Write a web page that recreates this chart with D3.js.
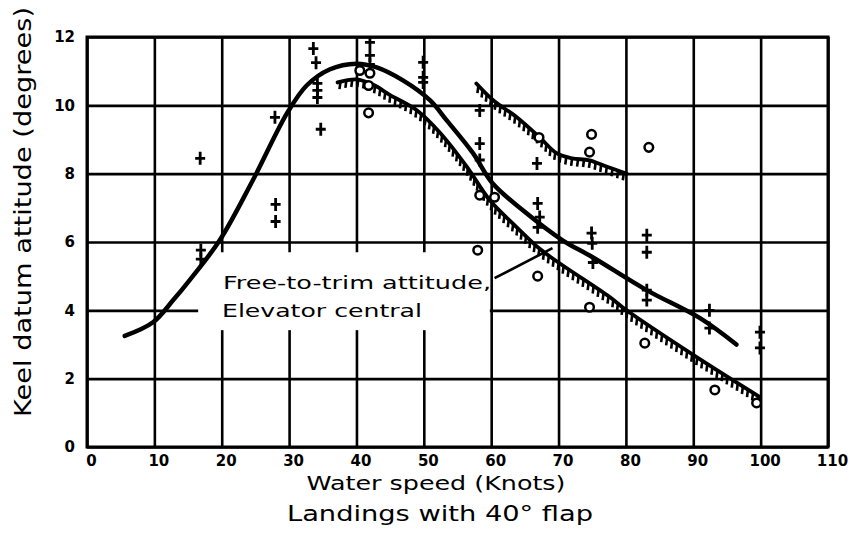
<!DOCTYPE html>
<html>
<head>
<meta charset="utf-8">
<script src="https://cdn.jsdelivr.net/npm/d3@7"></script>
<style>
  html, body { margin: 0; padding: 0; background: #fff; }
  svg { display: block; }
  text { font-family: "DejaVu Sans", sans-serif; fill: #000; }
</style>
</head>
<body>
<svg id="chart" width="851" height="540"></svg>
<script>
// ---------- data ----------
const xTicks = [0, 10, 20, 30, 40, 50, 60, 70, 80, 90, 100, 110];
const xTickLabels = ["0", "10", "20", "30", "40", "50", "60", "70", "80", "90", "100", "110"];
const yTicks = [0, 2, 4, 6, 8, 10, 12];
const yTickLabels = ["0", "2", "4", "6", "8", "10", "12"];

// solid faired curve (knots, degrees)
const solidCurve = [[5.6,3.25],[9.8,3.65],[12.8,4.3],[15.3,4.9],[19.7,6.05],[24.6,7.8],[29.7,9.77],
  [32.6,10.58],[36,11.05],[40,11.22],[43,11.11],[46.9,10.73],[50.9,10.15],[53.4,9.56],[57.3,8.6],
  [60.2,7.72],[64.7,6.93],[70.6,6.05],[75,5.56],[83,4.6],[91,3.77],[96.4,3.0]];
// hatched boundary curves
const upperHatched = [[57.8,10.64],[60.3,10.15],[63.8,9.65],[67.2,9.06],[69.7,8.6],[72,8.45],
  [74.6,8.39],[77.2,8.2],[80.1,8.0]];
const lowerHatched = [[37.2,10.67],[40,10.76],[42.5,10.6],[45,10.3],[49,9.85],[52.4,9.2],[56.4,8.2],
  [59.8,7.22],[63.8,6.43],[67.2,5.8],[70.2,5.37],[77.6,4.39],[80.1,4.0],[90.5,2.63],[99.9,1.46]];

// observed points
const crossPoints = [[16.9,5.76],[16.9,5.5],[16.8,8.45],[28,7.1],[28,6.6],[27.9,9.65],
  [33.6,11.66],[34,11.25],[34.2,10.64],[34.2,10.44],[34.2,10.23],[34.7,9.3],
  [42,11.84],[42,11.46],[42,11.2],[49.9,11.26],[49.9,10.82],[49.9,10.67],
  [58.3,9.85],[58.3,8.88],[58.3,8.4],[66.8,8.3],[66.9,7.13],[67.2,6.73],[66.9,6.43],
  [74.9,6.26],[75,5.96],[75.1,5.4],[83.1,6.2],[83.1,5.7],[83.1,4.59],[83.1,4.3],
  [92.4,4.0],[92.4,3.48],[99.9,3.36],[99.9,2.9]];
const circlePoints = [[40.5,11.02],[42,10.94],[41.8,10.58],[41.8,9.78],[58.3,7.37],[60.5,7.31],
  [58,5.76],[67.1,9.06],[74.9,9.15],[74.6,8.63],[83.4,8.77],[66.9,5.0],[74.6,4.09],
  [82.8,3.04],[93.2,1.67],[99.4,1.29]];

// texts
const xTitle = "Water speed (Knots)";
const xSubTitle = "Landings with 40\u00b0 flap";
const yTitle = "Keel datum attitude (degrees)";
const noteLines = ["Free-to-trim attitude,", "Elevator central"];
const noteBlank = [[16.5, 5.7], [59.8, 3.42]];   // region where grid is left blank for the note
const noteLeader = [[60.5, 4.94], [69.1, 5.82]];

// ---------- layout ----------
const svg = d3.select("#chart");
const x = d3.scaleLinear().domain([0, 110]).range([87, 828]);
const y = d3.scaleLinear().domain([0, 12]).range([447, 37]);
const innerW = x(110) - x(0), innerH = y(0) - y(12);

// grid + tick labels
const gx = svg.append("g").attr("transform", `translate(0,${y(0)})`)
  .call(d3.axisBottom(x).tickValues(xTicks).tickFormat((d, i) => xTickLabels[i])
        .tickSize(-innerH).tickPadding(8));
const gy = svg.append("g").attr("transform", `translate(${x(0)},0)`)
  .call(d3.axisLeft(y).tickValues(yTicks).tickFormat((d, i) => yTickLabels[i])
        .tickSize(-innerW).tickPadding(12));
[gx, gy].forEach(g => {
  g.select(".domain").remove();
  g.selectAll(".tick line").attr("stroke", "#000").attr("stroke-width", 2.6);
  g.selectAll(".tick text").attr("font-size", 15).attr("font-weight", "bold")
    .attr("font-family", "DejaVu Sans, sans-serif").attr("fill", "#000");
});
gx.selectAll(".tick text").attr("dx", 4);

// frame
svg.append("rect").attr("x", x(0)).attr("y", y(12)).attr("width", innerW).attr("height", innerH)
  .attr("fill", "none").attr("stroke", "#000").attr("stroke-width", 3);

// blank area behind note
svg.append("rect")
  .attr("x", x(noteBlank[0][0])).attr("y", y(noteBlank[0][1]))
  .attr("width", x(noteBlank[1][0]) - x(noteBlank[0][0]))
  .attr("height", y(noteBlank[1][1]) - y(noteBlank[0][1]))
  .attr("fill", "#fff");

// curves
const line = d3.line().x(d => x(d[0])).y(d => y(d[1])).curve(d3.curveCatmullRom.alpha(0.5));

svg.append("path").datum(solidCurve).attr("d", line)
  .attr("fill", "none").attr("stroke", "#000").attr("stroke-width", 4.5)
  .attr("stroke-linecap", "round").attr("stroke-linejoin", "round");

function hatched(data) {
  const p = svg.append("path").datum(data).attr("d", line)
    .attr("fill", "none").attr("stroke", "#000").attr("stroke-width", 3.8)
    .attr("stroke-linecap", "round");
  const node = p.node();
  const L = node.getTotalLength();
  const ticks = [];
  for (let s = 3; s < L; s += 6) ticks.push(node.getPointAtLength(s));
  svg.append("g").selectAll("line").data(ticks).join("line")
    .attr("x1", d => d.x).attr("y1", d => d.y)
    .attr("x2", d => d.x - 1).attr("y2", d => d.y + 7.5)
    .attr("stroke", "#000").attr("stroke-width", 2.6);
}
hatched(upperHatched);
hatched(lowerHatched);

// markers
svg.append("g").selectAll("path").data(crossPoints).join("path")
  .attr("d", d => {
    const cx = x(d[0]), cy = y(d[1]);
    return `M${cx - 5},${cy}H${cx + 5}M${cx},${cy - 6.5}V${cy + 6.5}`;
  })
  .attr("stroke", "#000").attr("stroke-width", 2.8).attr("fill", "none");

svg.append("g").selectAll("circle").data(circlePoints).join("circle")
  .attr("cx", d => x(d[0])).attr("cy", d => y(d[1])).attr("r", 4.3)
  .attr("fill", "#fff").attr("stroke", "#000").attr("stroke-width", 2.5);

// note
svg.append("text").attr("x", 223).attr("y", 289).attr("font-size", 17)
  .attr("textLength", 268).attr("lengthAdjust", "spacingAndGlyphs").text(noteLines[0]);
svg.append("text").attr("x", 222).attr("y", 317).attr("font-size", 17)
  .attr("textLength", 200).attr("lengthAdjust", "spacingAndGlyphs").text(noteLines[1]);
svg.append("line")
  .attr("x1", x(noteLeader[0][0])).attr("y1", y(noteLeader[0][1]))
  .attr("x2", x(noteLeader[1][0])).attr("y2", y(noteLeader[1][1]))
  .attr("stroke", "#000").attr("stroke-width", 2.6);

// axis titles
svg.append("text").attr("x", 436).attr("y", 490).attr("text-anchor", "middle")
  .attr("font-size", 20).attr("textLength", 259).attr("lengthAdjust", "spacingAndGlyphs").text(xTitle);
svg.append("text").attr("x", 440).attr("y", 521).attr("text-anchor", "middle")
  .attr("font-size", 21).attr("textLength", 306).attr("lengthAdjust", "spacingAndGlyphs").text(xSubTitle);
svg.append("text").attr("transform", "translate(31,212) rotate(-90)").attr("text-anchor", "middle")
  .attr("font-size", 23).attr("textLength", 410).attr("lengthAdjust", "spacingAndGlyphs").text(yTitle);
</script>
</body>
</html>
